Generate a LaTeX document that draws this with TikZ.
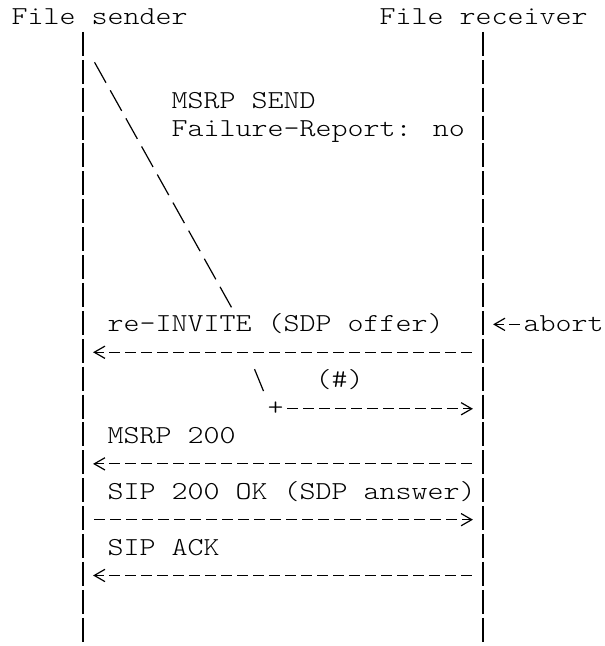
\documentclass[tikz,border=0pt]{standalone}
\usepackage{fontspec}
\newfontfamily\asciifont{lmmonolt10-regular.otf}[FakeStretch=1.1782]
\usetikzlibrary{arrows.meta}

\begin{document}
\begin{tikzpicture}[x=6pt, y=10.4625pt,
  every node/.style={font=\asciifont\fontsize{9.7}{12}\selectfont, inner sep=0pt, anchor=base west},
  lifeline/.style={line width=0.45pt, dash pattern=on 9pt off 1.4625pt},
  msg/.style={line width=0.45pt, dash pattern=on 3.9pt off 2.1pt,
    -{Straight Barb[length=4pt,width=4.6pt]}, shorten <=4.2pt, shorten >=3.78pt},
  slant/.style={line width=0.45pt, dash pattern=on 8.81pt off 3.25pt}]

\useasboundingbox (-0.6875,0.896) rectangle (37.0625,-22.258);

  % Participants and lifelines

\node (sender) at (0,0) {File sender};
\node (receiver) at (23,0) {File receiver};

\coordinate (sTop) at (4.5,-0.247);
\coordinate (sBot) at (4.5,-22.107);
\coordinate (rTop) at (29.5,-0.247);
\coordinate (rBot) at (29.5,-22.107);
\draw[lifeline] (sTop) -- (sBot);
\draw[lifeline] (rTop) -- (rBot);

\foreach \n in {12,13,15,17,19,21} {
  \coordinate (s\n) at (4.5,1.27-\n);
  \coordinate (r\n) at (29.5,1.27-\n);
}

  % MSRP SEND, cut off by the re-INVITE

\coordinate (sendA) at (5.22,-1.335);
\coordinate (sendB) at (13.78,-10.12);
\draw[slant] (sendA) -- (sendB);
\node (send) at (10,-3) {MSRP SEND};
\node (failure) at (10,-4) {Failure-Report: no};

  % re-INVITE

\node (reinvite) at (6,-11) {re-INVITE (SDP offer)};
\node (abort) at (32,-11) {abort};
\draw[msg, shorten <=1.2pt] (r12 -| abort.west) -- (r12);
\draw[msg] (r13) -- (s13);

  % rest of the MSRP SEND

\coordinate (resumeA) at (15.22,-12.335);
\coordinate (resumeB) at (15.78,-13.12);
\draw[line width=0.45pt] (resumeA) -- (resumeB);
\node (hash) at (19,-13) {(\#)};
\node (bend) at (16,-14) {+};
\draw[msg, shorten <=1.2pt] (bend.east) -- (bend.east -| r15);

  % answers

\node (msrpok) at (6,-15) {MSRP 200};
\draw[msg] (r17) -- (s17);
\node (sipok) at (6,-17) {SIP 200 OK (SDP answer)};
\draw[msg] (s19) -- (r19);
\node (ack) at (6,-19) {SIP ACK};
\draw[msg] (r21) -- (s21);

\end{tikzpicture}
\end{document}
